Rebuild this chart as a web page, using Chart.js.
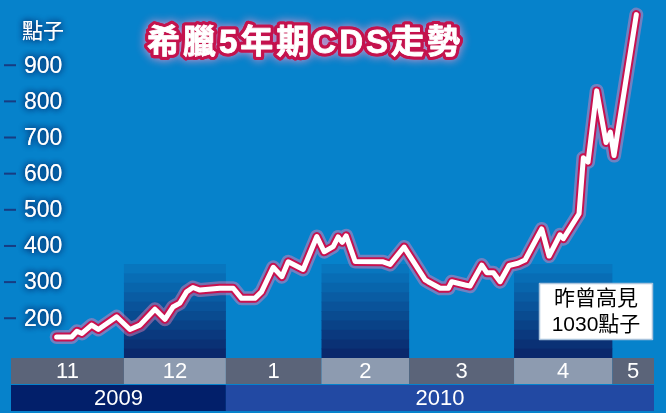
<!DOCTYPE html>
<html><head><meta charset="utf-8">
<script src="https://cdn.jsdelivr.net/npm/chart.js@4.4.1/dist/chart.umd.min.js"></script>
<style>html,body{margin:0;padding:0;background:#0682cb;}#wrap{width:666px;height:413px;}</style>
</head><body><div id="wrap"><canvas id="c" width="666" height="413"></canvas></div>
<script>
// ---- data (x = timeline position in days from start of Nov 2009) ----
const xDays = [13.7,18.2,19.8,21.3,24.2,26.2,31.7,35.7,38.7,43.2,46.2,48.6,50.7,52.7,54.6,56.7,62.7,66.7,69.2,73.2,75.2,78.7,81.3,83.2,87.7,91.8,94.0,96.7,98.2,99.4,100.6,103.3,111.7,113.8,118.0,124.3,125.2,128.8,131.3,132.3,136.3,137.8,141.3,142.8,144.8,146.8,149.5,152.2,154.3,159.3,161.5,164.8,165.8,170.5,171.8,173.2,175.8,178.6,179.9,181.0,187.7];
const cdsValues = [148,148,164,158,181,169,204,169,181,225,197,231,242,273,285,278,283,283,255,255,273,341,315,356,335,426,384,398,425,410,428,357,356,349,397,306,301,283,283,301,292,289,347,326,326,301,346,352,361,447,372,431,420,489,644,632,829,686,715,650,1040];
const monthLabels = ['11','12','1','2','3','4','5'];
const monthEdges = [0, 33.9, 64.5, 93.2, 119.5, 151, 180.5, 193];
const yearLabels = ['2009','2010'];
const yearEdges = [0, 64.5, 193];
const yTicks = [200,300,400,500,600,700,800,900];
const barTopValue = 350;
const titleText = '希臘5年期CDS走勢';
const unitText = '點子';
const noteLines = ['昨曾高見','1030點子'];

const points = xDays.map((x,i)=>({x, y: cdsValues[i]}));

const deco = {
  id:'deco',
  beforeDatasetsDraw(chart){
    const {ctx, scales:{x,y}, chartArea} = chart;
    ctx.save();
    const top = y.getPixelForValue(barTopValue);
    const bottom = chartArea.bottom;
    const n = 10;
    const c0=[8,118,190], c1=[10,40,108];
    for (let m=1; m<monthLabels.length; m+=2){
      const l = x.getPixelForValue(monthEdges[m]);
      const r = x.getPixelForValue(monthEdges[m+1]);
      const h = (bottom-top)/n;
      for (let i=0;i<n;i++){
        const t=i/(n-1);
        const c=c0.map((v,k)=>Math.round(v+(c1[k]-v)*t));
        ctx.fillStyle=`rgb(${c[0]},${c[1]},${c[2]})`;
        ctx.fillRect(l, top+i*h, r-l, h+0.6);
      }
    }
    ctx.restore();
  },
  afterDraw(chart){
    const {ctx, scales:{x,y}, chartArea} = chart;
    ctx.save();
    const mTop = chartArea.bottom, mH = 26;
    for (let i=0;i<monthLabels.length;i++){
      const l = x.getPixelForValue(monthEdges[i]);
      const r = x.getPixelForValue(monthEdges[i+1]);
      ctx.fillStyle = (i%2===0)?'#5b6479':'#8d9bb0';
      ctx.fillRect(l, mTop, r-l, mH);
      ctx.fillStyle='#ffffff';
      ctx.font='22px "Liberation Sans", Arial, sans-serif';
      ctx.textAlign='center'; ctx.textBaseline='middle';
      ctx.fillText(monthLabels[i], (l+r)/2, mTop+mH/2+1);
    }
    const yTop = mTop+mH+1, yH = 26;
    for (let i=0;i<yearLabels.length;i++){
      const l = x.getPixelForValue(yearEdges[i]);
      const r = x.getPixelForValue(yearEdges[i+1]);
      ctx.fillStyle = i===0?'#021f6a':'#2249a3';
      ctx.fillRect(l, yTop, r-l, yH);
      ctx.fillStyle='#ffffff';
      ctx.font='22px "Liberation Sans", Arial, sans-serif';
      ctx.textAlign='center'; ctx.textBaseline='middle';
      ctx.fillText(yearLabels[i], (l+r)/2, yTop+yH/2+1);
    }
    ctx.font='23px "Liberation Sans", Arial, sans-serif';
    ctx.textAlign='left'; ctx.textBaseline='middle';
    yTicks.forEach(v=>{
      const py = y.getPixelForValue(v);
      ctx.fillStyle='#173c82';
      ctx.fillRect(4, py-1, 12, 2);
      ctx.shadowColor='#08306e'; ctx.shadowBlur=6;
      ctx.fillStyle='#ffffff';
      ctx.fillText(String(v), 24, py+1);
      ctx.fillText(String(v), 24, py+1);
      ctx.shadowBlur=0;
    });
    ctx.font='21px "Noto Sans CJK TC", sans-serif';
    ctx.shadowColor='#08306e'; ctx.shadowBlur=6;
    ctx.fillStyle='#ffffff';
    ctx.fillText(unitText, 22, 30);
    ctx.fillText(unitText, 22, 30);
    ctx.shadowBlur=0;
    // title
    ctx.font='bold 33px "Liberation Sans", "Noto Sans CJK TC", sans-serif';
    if ('letterSpacing' in ctx) ctx.letterSpacing='3px';
    ctx.textAlign='left'; ctx.textBaseline='middle';
    ctx.lineJoin='round';
    ctx.shadowColor='rgba(245,150,200,0.95)'; ctx.shadowBlur=10;
    ctx.strokeStyle='#c4124d'; ctx.lineWidth=7;
    ctx.strokeText(titleText, 147, 44);
    ctx.shadowBlur=0;
    ctx.strokeText(titleText, 147, 44);
    ctx.fillStyle='#ffffff';
    ctx.fillText(titleText, 147, 44);
    ctx.lineWidth=0.8; ctx.strokeStyle='#ffffff';
    ctx.strokeText(titleText, 147, 44);
    if ('letterSpacing' in ctx) ctx.letterSpacing='0px';
    // note box
    ctx.fillStyle='#ffffff';
    ctx.fillRect(539, 283, 114, 57);
    ctx.strokeStyle='#a9c3dc'; ctx.lineWidth=1.5;
    ctx.strokeRect(539.5, 283.5, 113, 56);
    ctx.fillStyle='#000000';
    ctx.font='21px "Liberation Sans", "Noto Sans CJK TC", sans-serif';
    ctx.textAlign='center';
    ctx.fillText(noteLines[0], 596, 299);
    ctx.fillText(noteLines[1], 596, 325);
    ctx.restore();
  }
};

const lineBase = {data:points, pointRadius:0, clip:false, tension:0, borderJoinStyle:'round', borderCapStyle:'round'};
new Chart(document.getElementById('c'), {
  type:'line',
  data:{ datasets:[
    Object.assign({}, lineBase, {borderColor:'rgba(240,130,185,0.45)', borderWidth:14, order:3}),
    Object.assign({}, lineBase, {borderColor:'#c8114f', borderWidth:9, order:2}),
    Object.assign({}, lineBase, {borderColor:'#ffffff', borderWidth:5, order:1})
  ]},
  options:{
    responsive:false, animation:false, devicePixelRatio:1,
    layout:{ padding:{left:11, right:12, top:11, bottom:55}, autoPadding:false },
    plugins:{ legend:{display:false}, tooltip:{enabled:false}, title:{display:false} },
    scales:{
      x:{ type:'linear', min:0, max:193, display:false },
      y:{ type:'linear', min:90, max:1050, display:false }
    }
  },
  plugins:[deco]
});
</script>
</body></html>
